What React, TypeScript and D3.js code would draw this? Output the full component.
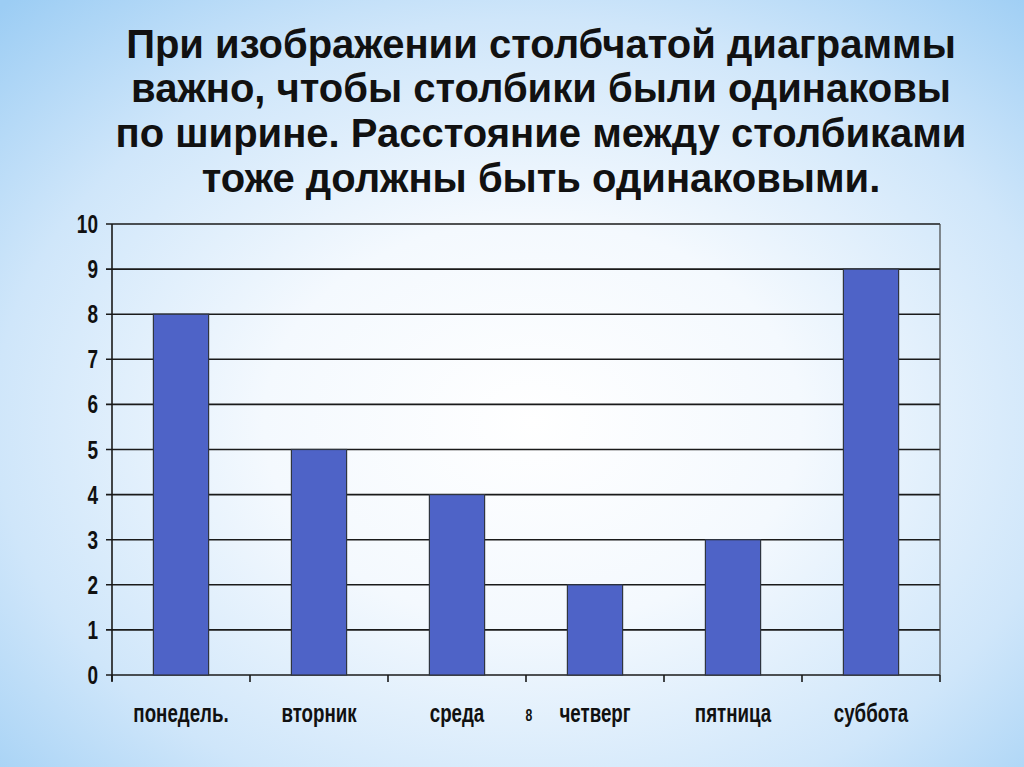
import * as d3 from "d3";

const days = ["понедель.", "вторник", "среда", "четверг", "пятница", "суббота"];
const values = [8, 5, 4, 2, 3, 9];
const yTicks = [0, 1, 2, 3, 4, 5, 6, 7, 8, 9, 10];
const titleLines = [
  "При изображении столбчатой диаграммы",
  "важно, чтобы столбики были одинаковы",
  "по ширине. Расстояние между столбиками",
  "тоже должны быть одинаковыми.",
];
const titleBaselines = [58, 102, 147, 192];
const slideNumber = "8";

const W = 1024;
const H = 767;
const plot = { left: 112, right: 940, top: 224, bottom: 675 };

export default function App() {
  const x = d3
    .scaleBand<string>()
    .domain(days)
    .range([plot.left, plot.right])
    .paddingInner(0.6)
    .paddingOuter(0.3);
  const cat = d3.scaleBand<string>().domain(days).range([plot.left, plot.right]).padding(0);
  const y = d3.scaleLinear().domain([0, 10]).range([plot.bottom, plot.top]);

  const boundaries = [...days.map((d) => cat(d)!), plot.right];
  const font = "'Liberation Sans', Arial, sans-serif";
  // narrow bold look: squeeze Liberation Sans Bold horizontally
  const squeeze = 0.72;

  return (
    <svg
      width={W}
      height={H}
      viewBox={`0 0 ${W} ${H}`}
      style={{ position: "absolute", left: 0, top: 0 }}
    >
      <defs>
        <radialGradient id="bg" cx="52%" cy="55%" r="75%">
          <stop offset="0%" stopColor="#ffffff" />
          <stop offset="35%" stopColor="#f4f9fe" />
          <stop offset="70%" stopColor="#cfe6fa" />
          <stop offset="100%" stopColor="#9ccdf4" />
        </radialGradient>
      </defs>
      <rect x={0} y={0} width={W} height={H} fill="url(#bg)" />

      <g fontFamily={font} fontWeight="bold" fontSize={40} fill="#111" textAnchor="middle">
        {titleLines.map((t, i) => (
          <text key={i} x={541} y={titleBaselines[i]}>
            {t}
          </text>
        ))}
      </g>

      {/* gridlines */}
      <g stroke="#1a1a1a" strokeWidth={1.6}>
        {yTicks.filter((t) => t > 0).map((t) => (
          <line key={t} x1={plot.left - 6} x2={plot.right} y1={y(t)} y2={y(t)} />
        ))}
        <line x1={plot.left - 6} x2={plot.right} y1={y(0)} y2={y(0)} />
        <line x1={plot.left} x2={plot.left} y1={plot.top} y2={plot.bottom + 6} />
        <line x1={plot.right} x2={plot.right} y1={plot.top} y2={plot.bottom} stroke="#444" strokeWidth={1.2} />
        {boundaries.map((b, i) => (
          <line key={i} x1={b} x2={b} y1={plot.bottom} y2={plot.bottom + 7} />
        ))}
      </g>

      {/* bars */}
      <g>
        {days.map((d, i) => (
          <rect
            key={d}
            x={x(d)!}
            y={y(values[i])}
            width={x.bandwidth()}
            height={y(0) - y(values[i])}
            fill="#4e63c7"
            stroke="#2f3540"
            strokeWidth={1.2}
          />
        ))}
      </g>

      {/* y labels */}
      <g fontFamily={font} fontWeight="bold" fontSize={25} fill="#111" textAnchor="end">
        {yTicks.map((t) => (
          <text key={t} transform={`translate(98,${y(t) + 9}) scale(${squeeze + 0.04},1)`}>
            {t}
          </text>
        ))}
      </g>

      {/* x labels */}
      <g fontFamily={font} fontWeight="bold" fontSize={26} fill="#111" textAnchor="middle">
        {days.map((d) => (
          <text key={d} transform={`translate(${cat(d)! + cat.bandwidth() / 2},722) scale(${squeeze},1)`}>
            {d}
          </text>
        ))}
      </g>
      <text
        transform={`translate(529,721) scale(${squeeze},1)`}
        fontFamily={font}
        fontWeight="bold"
        fontSize={17}
        fill="#111"
        textAnchor="middle"
      >
        {slideNumber}
      </text>
    </svg>
  );
}
